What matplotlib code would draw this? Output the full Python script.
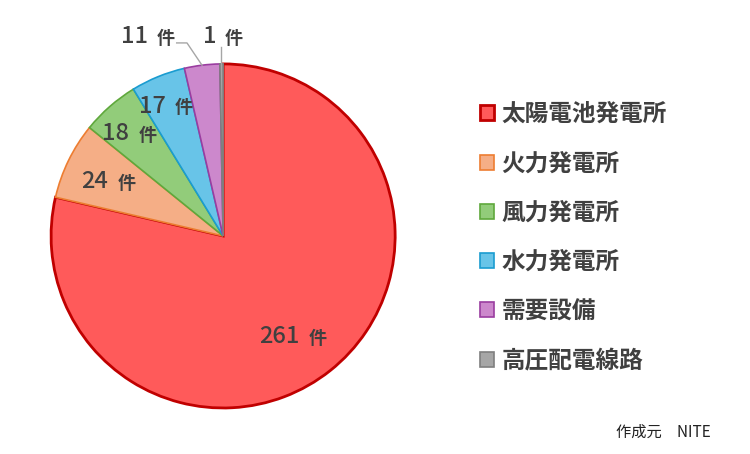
import numpy as np
import matplotlib.pyplot as plt
from matplotlib.patches import Patch

plt.rcParams['font.family'] = ['Noto Sans CJK JP', 'DejaVu Sans']

# data
categories = ["太陽電池発電所", "火力発電所", "風力発電所", "水力発電所", "需要設備", "高圧配電線路"]
counts = [261, 24, 18, 17, 11, 1]
fill_colors = ["#FF5A5A", "#F5AE86", "#92CC7A", "#68C4E8", "#CC88CC", "#A6A6A6"]
edge_colors = ["#C00000", "#ED7D31", "#5FA83C", "#1A9CD0", "#9A3DA0", "#7F7F7F"]
edge_widths = [2.0, 1.2, 1.2, 1.2, 1.2, 1.2]
unit = "件"
source = "作成元　NITE"

text_color = "#404040"

fig = plt.figure(figsize=(7.5, 4.54), dpi=100)
ax = fig.add_axes([0.0635, 0.0938, 0.468, 0.773])

wedges, _ = ax.pie(counts, startangle=90, counterclock=False, radius=1,
                   colors=fill_colors)
for w, ec, lw in zip(wedges, edge_colors, edge_widths):
    w.set_edgecolor(ec)
    w.set_linewidth(lw)
ax.set_xlim(-1.02, 1.02)
ax.set_ylim(-1.02, 1.02)
ax.set_aspect('equal')
ax.axis('off')


def put_label(x, y, n):
    # number + unit, split point at (x, y)
    ax.annotate(str(n), (x, y), xytext=(-3, 0), textcoords='offset points',
                ha='right', va='center', fontsize=17, color=text_color,
                fontweight='medium', annotation_clip=False)
    ax.annotate(unit, (x, y), xytext=(3.5, -1), textcoords='offset points',
                ha='left', va='center', fontsize=13, color=text_color,
                fontweight='bold', annotation_clip=False)


# inside labels
inside_r = [0.75, 0.715, 0.79, 0.815]
for i, r in zip(range(4), inside_r):
    w = wedges[i]
    mid = np.deg2rad((w.theta1 + w.theta2) / 2)
    put_label(r * np.cos(mid), r * np.sin(mid), counts[i])

# outside labels with leader lines
mid4 = np.deg2rad((wedges[4].theta1 + wedges[4].theta2) / 2)
ax.plot([np.cos(mid4), -0.21, -0.27], [np.sin(mid4), 1.122, 1.122],
        color="#A6A6A6", lw=1, clip_on=False)
put_label(-0.413, 1.157, counts[4])

mid5 = np.deg2rad((wedges[5].theta1 + wedges[5].theta2) / 2)
ax.plot([np.cos(mid5), np.cos(mid5)], [np.sin(mid5), 1.10],
        color="#A6A6A6", lw=1, clip_on=False)
put_label(-0.017, 1.157, counts[5])

handles = [Patch(facecolor=fc, edgecolor=ec, linewidth=lw)
           for fc, ec, lw in zip(fill_colors, edge_colors, edge_widths)]
fig.legend(handles, categories, loc='upper left', bbox_to_anchor=(0.64, 0.775),
           frameon=False, labelcolor=text_color,
           prop=dict(size=17, weight='bold'),
           handlelength=0.6, handleheight=0.6, handletextpad=0.3,
           labelspacing=1.07, borderpad=0, borderaxespad=0)

fig.text(0.947, 0.048, source, ha='right', va='center', fontsize=11, color="#222222")

fig.savefig("out.png", dpi=100, facecolor='white')
